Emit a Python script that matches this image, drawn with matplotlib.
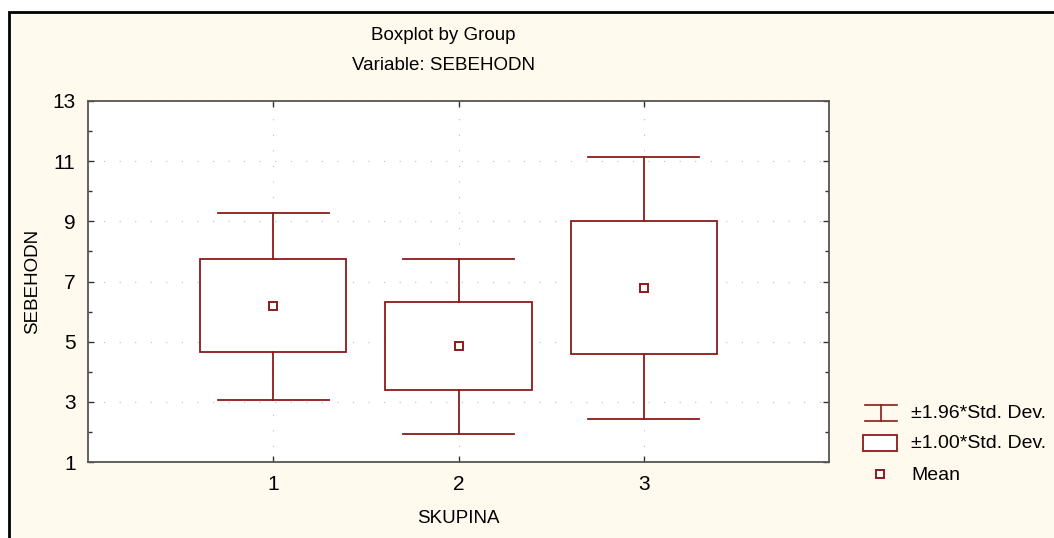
import numpy as np
import matplotlib
matplotlib.use("Agg")
import matplotlib.pyplot as plt
from matplotlib.patches import Rectangle
from matplotlib.lines import Line2D

plt.rcParams['font.family'] = ['Liberation Sans', 'DejaVu Sans']

# data
groups = [1, 2, 3]
means = [6.19, 4.86, 6.79]
box_low = [4.66, 3.39, 4.59]      # mean - 1.00*SD
box_high = [7.75, 6.32, 9.01]     # mean + 1.00*SD
whisk_low = [3.06, 1.93, 2.43]    # mean - 1.96*SD
whisk_high = [9.28, 7.75, 11.14]  # mean + 1.96*SD
yticks = [1, 3, 5, 7, 9, 11, 13]

red = '#8c1a1a'
cream = '#fff9ee'
W, H = 1054, 538

fig = plt.figure(figsize=(W / 100, H / 100), dpi=100, facecolor='white')

# outer frame of the graph window
fig.patches.append(Rectangle((9 / W, -0.1), 1.2, 1 - 12 / H + 0.1, transform=fig.transFigure,
                             facecolor=cream, edgecolor='black', lw=2, zorder=-10))

ax = fig.add_axes([88 / W, 1 - 462 / H, (829 - 88) / W, (462 - 101) / H])
ax.set_facecolor('white')

box_w = 0.79
cap_w = 0.60
for g, m, bl, bh, wl, wh in zip(groups, means, box_low, box_high, whisk_low, whisk_high):
    ax.add_patch(Rectangle((g - box_w / 2, bl), box_w, bh - bl, facecolor='white',
                           edgecolor=red, lw=1.3, zorder=3))
    ax.plot([g, g], [bh, wh], color=red, lw=1.3, zorder=3)
    ax.plot([g, g], [wl, bl], color=red, lw=1.3, zorder=3)
    ax.plot([g - cap_w / 2, g + cap_w / 2], [wh, wh], color=red, lw=1.3, zorder=3)
    ax.plot([g - cap_w / 2, g + cap_w / 2], [wl, wl], color=red, lw=1.3, zorder=3)
ax.plot(groups, means, ls='none', marker='s', ms=6, mfc='white', mec=red, mew=1.4, zorder=4)

ax.set_xlim(0, 4)
ax.set_ylim(1, 13)
ax.set_xticks(groups)
ax.set_yticks(yticks)
ax.set_yticks(np.arange(2, 13, 2), minor=True)
ax.tick_params(axis='both', which='both', direction='in', top=True, right=True,
               labelsize=15, color='#333333', length=4, width=1)
ax.tick_params(axis='y', which='major', pad=9)
ax.tick_params(axis='x', which='major', pad=9)
ax.tick_params(axis='y', which='minor', length=3)
ax.grid(True, which='major', color='#bbbbbb', lw=0.8, ls=(0, (1, 13)))
for s in ax.spines.values():
    s.set_color('#555555')
    s.set_linewidth(1.3)

ax.set_xlabel('SKUPINA', fontsize=13.5, labelpad=12)
ax.set_ylabel('SEBEHODN', fontsize=13.5, labelpad=8)

fig.text(443 / W, 1 - 35 / H, 'Boxplot by Group', ha='center', va='center', fontsize=13.5)
fig.text(443 / W, 1 - 65 / H, 'Variable: SEBEHODN', ha='center', va='center', fontsize=13.5)

# legend drawn in pixel-like coordinates of a small overlay
lax = fig.add_axes([0, 0, 1, 1], facecolor='none')
lax.set_xlim(0, W)
lax.set_ylim(H, 0)
lax.axis('off')
lax.add_line(Line2D([865, 897], [405, 405], color=red, lw=1.2))
lax.add_line(Line2D([865, 897], [421, 421], color=red, lw=1.2))
lax.add_line(Line2D([881, 881], [405, 421], color=red, lw=1.2))
lax.add_patch(Rectangle((863, 435), 34, 16, facecolor='white', edgecolor=red, lw=1.3))
lax.plot([880], [474], ls='none', marker='s', ms=6, mfc='white', mec=red, mew=1.4)
lax.text(911, 414, '±1.96*Std. Dev.', va='center', fontsize=14)
lax.text(911, 444, '±1.00*Std. Dev.', va='center', fontsize=14)
lax.text(911, 475, 'Mean', va='center', fontsize=14)

fig.savefig('out.png', dpi=100, facecolor=fig.get_facecolor())
